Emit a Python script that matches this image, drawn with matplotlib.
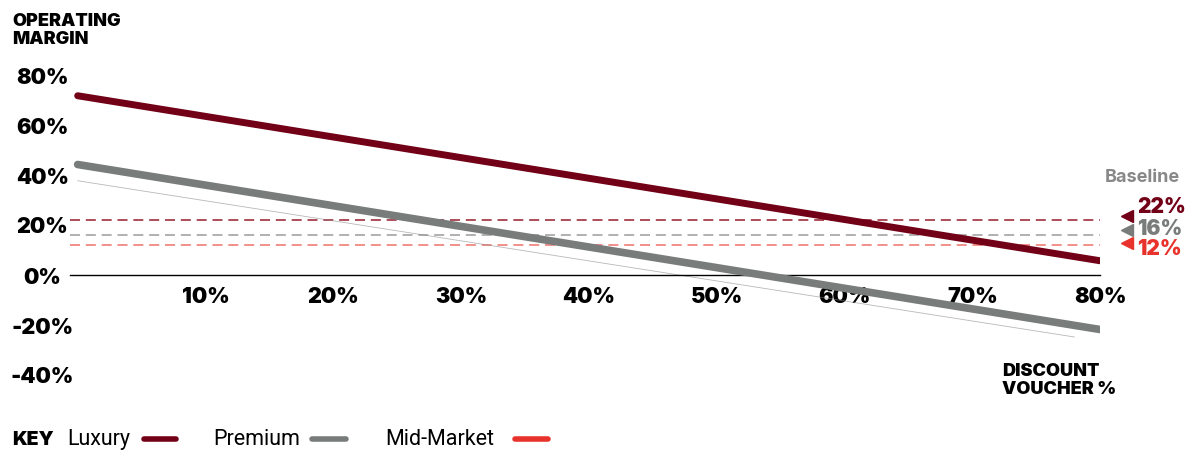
import matplotlib
matplotlib.use("Agg")
import matplotlib.pyplot as plt
from matplotlib.lines import Line2D

# data
discount = [0, 80]
luxury = [71.5, 5.5]
premium = [44, -22]
thin_x = [0, 78]
thin_y = [37.5, -25]          # faint reference line
baselines = [22, 16, 12]
baseline_labels = ["22%", "16%", "12%"]
xticks = [10, 20, 30, 40, 50, 60, 70, 80]
yticks = [80, 60, 40, 20, 0, -20, -40]
key_names = ["Luxury", "Premium", "Mid-Market"]

c_lux = "#720016"
c_prem = "#787c7b"
c_mid = "#e8332c"
base_cols = ["#9e2f3d", "#a3a3a3", "#ef7d75"]
mark_cols = [c_lux, c_prem, c_mid]

bold = ["Inter", "DejaVu Sans"]
reg = ["Roboto", "DejaVu Sans"]

fig = plt.figure(figsize=(11.99, 4.52), dpi=100)
ax = fig.add_axes([70 / 1199, 64 / 452, 1030 / 1199, 325 / 452])
ax.set_xlim(-0.6, 80)
ax.set_ylim(-45, 85)

for s in ["top", "right", "left"]:
    ax.spines[s].set_visible(False)
ax.spines["bottom"].set_position(("data", 0))
ax.spines["bottom"].set_linewidth(1.0)

ax.set_xticks(xticks)
ax.set_xticklabels([f"{t}%" for t in xticks], fontfamily=bold, fontweight=900, fontsize=15.5)
ax.set_yticks(yticks)
ax.set_yticklabels([f"{t}%" for t in yticks], fontfamily=bold, fontweight=900, fontsize=15.5)
ax.tick_params(axis="x", length=0, pad=8)
ax.tick_params(axis="y", length=0, pad=20)
for lab in ax.get_yticklabels():
    lab.set_horizontalalignment("center")

# baselines
for b, col in zip(baselines, base_cols):
    ax.plot([-0.6, 80], [b, b], color=col, lw=1.2, dashes=(6, 3.5), zorder=1)

ax.plot(thin_x, thin_y, color="#888888", lw=0.6, alpha=0.6, zorder=2)
ax.plot(discount, premium, color=c_prem, lw=5.5, solid_capstyle="round", zorder=3)
ax.plot(discount, luxury, color=c_lux, lw=5, solid_capstyle="round", zorder=4)

# right labels
ax.text(83.3, 39, "Baseline", color="#888888", fontfamily=bold, fontweight="bold",
        fontsize=13, ha="center", va="center", clip_on=False)
tri_y = [23.5, 18, 12.5]
txt_y = [27.5, 18.5, 10.5]
for ty, yy, lab, col in zip(tri_y, txt_y, baseline_labels, mark_cols):
    ax.plot([82.1], [ty], marker="<", color=col, markersize=9, clip_on=False, zorder=5)
    ax.text(82.9, yy, lab, color=col, fontfamily=bold, fontweight=900,
            fontsize=15, ha="left", va="center", clip_on=False)

# axis titles
fig.text(12 / 1199, 1 - 13 / 452, "OPERATING\nMARGIN", fontfamily=bold, fontweight=900,
         fontsize=13, ha="left", va="top", linespacing=1.1)
fig.text(1002 / 1199, 1 - 363 / 452, "DISCOUNT\nVOUCHER %", fontfamily=bold, fontweight=900,
         fontsize=13, ha="left", va="top", linespacing=1.05)

# key
ky = 1 - 440 / 452
fig.text(12 / 1199, ky, "KEY", fontfamily=bold, fontweight=900, fontsize=14, va="center")
name_x = [67, 213, 385]
line_x = [(144, 176), (312, 346), (515, 548)]
for nx, (a, b), nm, col in zip(name_x, line_x, key_names, mark_cols):
    fig.text(nx / 1199, ky, nm, fontfamily=reg, fontsize=15.5, va="center")
    fig.add_artist(Line2D([a / 1199, b / 1199], [ky, ky], transform=fig.transFigure,
                          color=col, lw=4, solid_capstyle="round"))

fig.savefig("out.png", dpi=100)
